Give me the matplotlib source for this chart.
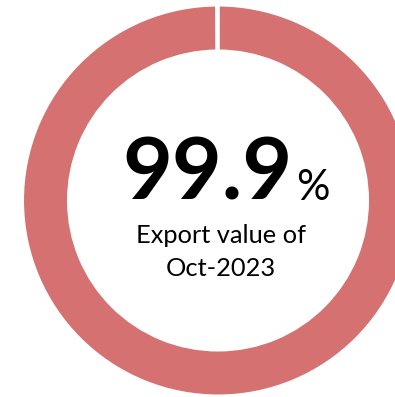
import matplotlib.pyplot as plt

# export share shown in the donut
shares = [99.9, 0.1]
share_colors = ["#D57171", "white"]
big_value = "99.9"
unit = "%"
caption = ["Export value of", "Oct-2023"]

W, H = 395, 397
fig = plt.figure(figsize=(W / 100, H / 100), dpi=100)
ax = fig.add_axes([0, 0, 1, 1])

cx, cy = 218, H - 200.5
outer = 195.5
ring = 46

ax.pie(shares, colors=share_colors, startangle=90, counterclock=False,
       radius=outer, center=(cx, cy),
       wedgeprops=dict(width=ring, edgecolor="white", linewidth=2.2))

ax.set_xlim(0, W)
ax.set_ylim(0, H)
ax.set_aspect("equal")
ax.axis("off")

font = "Lato"
ax.text(292, H - 200, big_value, ha="right", va="baseline",
        fontsize=62, fontweight="bold", family=font, color="black")
ax.text(296, H - 200, unit, ha="left", va="baseline",
        fontsize=30, family=font, color="black")
ax.text(221, H - 243, caption[0], ha="center", va="baseline",
        fontsize=18.3, family=font, color="black")
ax.text(221, H - 276, caption[1], ha="center", va="baseline",
        fontsize=18.3, family=font, color="black")

fig.savefig("out.png", dpi=100)
